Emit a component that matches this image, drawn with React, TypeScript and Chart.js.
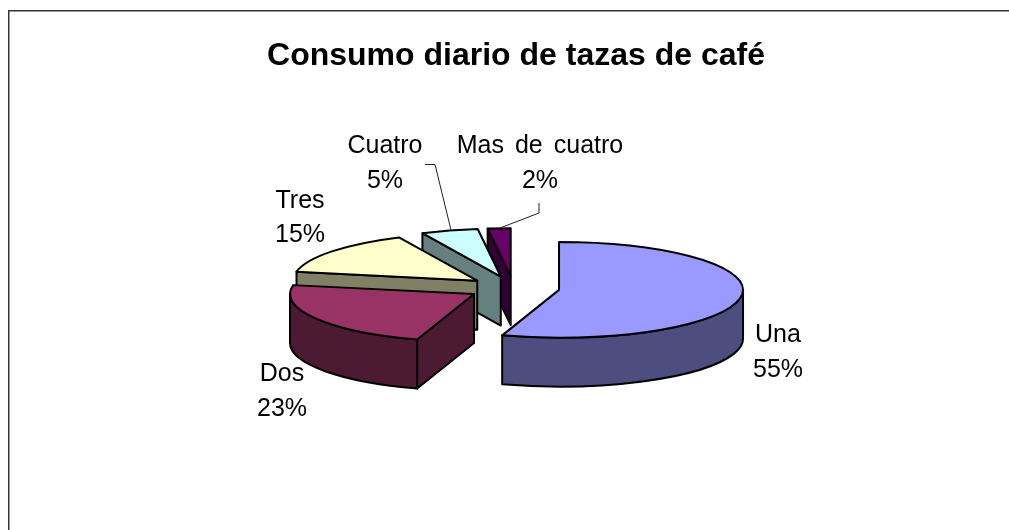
import React, { useEffect, useRef } from "react";
import { Chart, registerables } from "chart.js";

Chart.register(...registerables);

const categories = ["Una", "Dos", "Tres", "Cuatro", "Mas de cuatro"];
const percentages = [55, 23, 15, 5, 2];
const topColors = ["#9999FF", "#993366", "#FFFFCC", "#CCFFFF", "#660066"];
const wallColors = ["#4D4D80", "#4D1A33", "#808066", "#668080", "#330033"];
const titleText = "Consumo diario de tazas de café";

const pieCenter = { x: 513.6, y: 288 };
const TILT = 0.26;
const DEPTH = 49;
const FONT = '"Liberation Sans", Arial, sans-serif';

const labelSpots = [
  { x: 778, y: 342, y2: 377 },
  { x: 282, y: 381, y2: 416 },
  { x: 300, y: 208, y2: 242 },
  { x: 385, y: 153, y2: 188 },
  { x: 540, y: 153, y2: 188 },
];
const leaders: Record<number, number[][]> = {
  3: [[425, 164.5], [435, 164.5], [451, 230]],
  4: [[539, 203], [539, 213], [500, 228]],
};

const pie3dPlugin = {
  id: "pie3d",
  beforeDraw(chart: any) {
    const ctx = chart.ctx;
    ctx.save();
    ctx.fillStyle = "#fff";
    ctx.fillRect(0, 0, chart.width, chart.height);
    ctx.strokeStyle = "#333";
    ctx.lineWidth = 1.5;
    ctx.beginPath();
    ctx.moveTo(8.75, chart.height + 2);
    ctx.lineTo(8.75, 10.75);
    ctx.lineTo(chart.width + 2, 10.75);
    ctx.stroke();
    ctx.restore();
  },
  beforeDatasetsDraw(chart: any) {
    const ctx = chart.ctx;
    const arcs = chart.getDatasetMeta(0).data;
    const slices = arcs.map((arc: any, i: number) => {
      const mid = (arc.startAngle + arc.endAngle) / 2;
      const off = arc.options.offset;
      return {
        i,
        s: arc.startAngle,
        e: arc.endAngle,
        r: arc.outerRadius,
        cx: pieCenter.x + Math.cos(mid) * off,
        cy: pieCenter.y + Math.sin(mid) * off * TILT,
      };
    });
    slices.sort((a: any, b: any) => a.cy - b.cy);
    ctx.save();
    ctx.strokeStyle = "#000";
    ctx.lineWidth = 2;
    ctx.lineJoin = "round";
    for (const p of slices) {
      const ry = p.r * TILT;
      const wall = (a: number) => {
        ctx.beginPath();
        ctx.moveTo(p.cx, p.cy);
        ctx.lineTo(p.cx + p.r * Math.cos(a), p.cy + ry * Math.sin(a));
        ctx.lineTo(p.cx + p.r * Math.cos(a), p.cy + ry * Math.sin(a) + DEPTH);
        ctx.lineTo(p.cx, p.cy + DEPTH);
        ctx.closePath();
        ctx.fillStyle = wallColors[p.i];
        ctx.fill();
        ctx.stroke();
      };
      if (-Math.cos(p.s) > 1e-6) wall(p.s);
      if (Math.cos(p.e) > 1e-6) wall(p.e);
      const a0 = Math.max(p.s, 0);
      const a1 = Math.min(p.e, Math.PI);
      if (a1 > a0) {
        ctx.beginPath();
        ctx.ellipse(p.cx, p.cy, p.r, ry, 0, a0, a1);
        ctx.ellipse(p.cx, p.cy + DEPTH, p.r, ry, 0, a1, a0, true);
        ctx.closePath();
        ctx.fillStyle = wallColors[p.i];
        ctx.fill();
        ctx.stroke();
      }
      ctx.beginPath();
      ctx.moveTo(p.cx, p.cy);
      ctx.ellipse(p.cx, p.cy, p.r, ry, 0, p.s, p.e);
      ctx.closePath();
      ctx.fillStyle = topColors[p.i];
      ctx.fill();
      ctx.stroke();
    }
    ctx.restore();
    return false;
  },
  afterDraw(chart: any) {
    const ctx = chart.ctx;
    ctx.save();
    ctx.strokeStyle = "#222";
    ctx.lineWidth = 1;
    Object.values(leaders).forEach((pts) => {
      ctx.beginPath();
      pts.forEach(([x, y], k) => (k ? ctx.lineTo(x, y) : ctx.moveTo(x, y)));
      ctx.stroke();
    });
    ctx.fillStyle = "#000";
    ctx.font = `25px ${FONT}`;
    ctx.wordSpacing = "4px";
    ctx.textAlign = "center";
    ctx.textBaseline = "alphabetic";
    categories.forEach((name, i) => {
      const spot = labelSpots[i];
      ctx.fillText(name, spot.x, spot.y);
      ctx.fillText(`${percentages[i]}%`, spot.x, spot.y2);
    });
    ctx.restore();
  },
};

export default function App() {
  const ref = useRef<HTMLCanvasElement>(null);
  useEffect(() => {
    const chart = new Chart(ref.current as HTMLCanvasElement, {
      type: "pie",
      data: {
        labels: categories,
        datasets: [
          {
            data: percentages,
            backgroundColor: topColors,
            borderColor: "#000",
            offset: 46,
            radius: 184,
          } as any,
        ],
      },
      options: {
        responsive: false,
        animation: false,
        layout: { padding: { left: 23, right: 0, top: 0, bottom: 0 } },
        plugins: {
          legend: { display: false },
          tooltip: { enabled: false },
          title: {
            display: true,
            text: titleText,
            color: "#000",
            font: { family: FONT, size: 32, weight: "bold" },
            padding: { top: 37, bottom: 10 },
          },
        },
      },
      plugins: [pie3dPlugin],
    } as any);
    return () => chart.destroy();
  }, []);
  return (
    <div style={{ position: "fixed", left: 0, top: 0, width: 1009, height: 530, overflow: "hidden", background: "#fff" }}>
      <canvas ref={ref} width={1009} height={530} style={{ display: "block" }} />
    </div>
  );
}
